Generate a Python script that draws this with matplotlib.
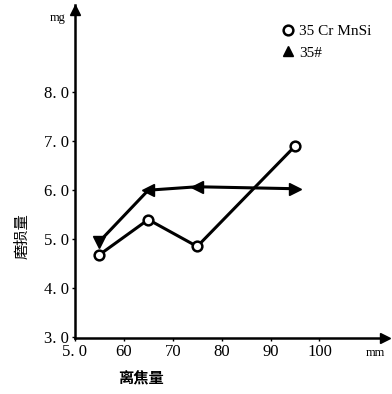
import matplotlib.pyplot as plt

plt.rcParams['font.family'] = ['Liberation Serif', 'Noto Sans CJK SC', 'DejaVu Sans']

# 离焦量 (mm) 与 磨损量 (mg)
x_vals = [55, 65, 75, 95]
cr_mn_si = [4.68, 5.4, 4.85, 6.9]
steel_35 = [4.95, 6.0, 6.07, 6.03]
tri_markers = ['v', '<', '<', '>']

x_ticks = [50, 60, 70, 80, 90, 100]
x_ticklabels = ['5. 0', '60', '70', '80', '90', '100']
y_ticks = [3, 4, 5, 6, 7, 8]
y_ticklabels = ['3. 0', '4. 0', '5. 0', '6. 0', '7. 0', '8. 0']

fig = plt.figure(figsize=(3.92, 3.94), dpi=100)
ax = fig.add_axes([0.191, 0.142, 0.79, 0.845])

ax.plot(x_vals, cr_mn_si, color='black', lw=2.2, marker='o', ms=7,
        mfc='white', mec='black', mew=1.8, label='35 Cr MnSi', zorder=3)
ax.plot(x_vals, steel_35, color='black', lw=2.2, zorder=2)
for xv, yv, m in zip(x_vals, steel_35, tri_markers):
    ax.plot(xv, yv, marker=m, ms=8, color='black', zorder=3)
ax.plot([], [], 'k^', ms=7, label='35#')

ax.set_xlim(50, 113.3)
ax.set_ylim(2.98, 9.78)
ax.set_xticks(x_ticks)
ax.set_xticklabels(x_ticklabels, fontsize=12)
ax.set_yticks(y_ticks)
ax.set_yticklabels(y_ticklabels, fontsize=12)
ax.tick_params(length=2, width=1, pad=2)

for s in ['top', 'right']:
    ax.spines[s].set_visible(False)
ax.spines['left'].set_linewidth(1.8)
ax.spines['bottom'].set_linewidth(1.8)
ax.plot(1, 0, '>k', ms=7, transform=ax.transAxes, clip_on=False)
ax.plot(0, 0.985, '^k', ms=7, transform=ax.transAxes, clip_on=False)

ax.text(-0.03, 0.96, 'mg', transform=ax.transAxes, ha='right', va='center', fontsize=9)
ax.text(0.97, -0.045, 'mm', transform=ax.transAxes, ha='center', va='center', fontsize=9)

fig.text(0.36, 0.04, '离焦量', family=['Noto Sans CJK SC'], fontsize=11,
         fontweight='bold', ha='center', va='center')
fig.text(0.055, 0.4, '磨损量', family=['Noto Sans CJK SC'], fontsize=11,
         rotation=90, ha='center', va='center')

ax.legend(loc='upper left', bbox_to_anchor=(0.67, 0.96), frameon=False,
          handlelength=0, handletextpad=0.7, fontsize=11, labelspacing=0.5,
          borderaxespad=0)

fig.savefig('out.png', dpi=100)
